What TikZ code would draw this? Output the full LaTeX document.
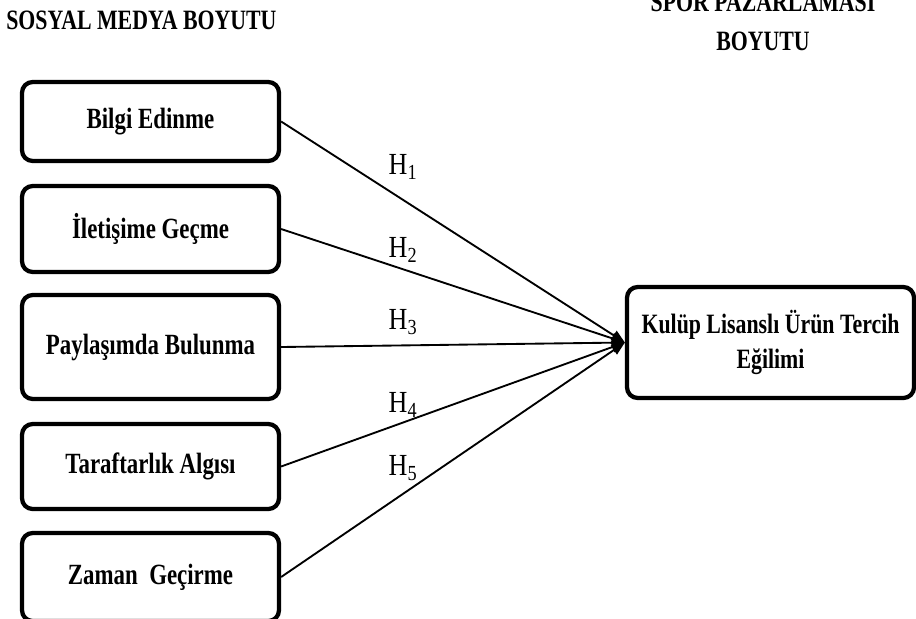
\documentclass[tikz,border=0pt]{standalone}
\usepackage{fontspec}
\setmainfont{Liberation Serif}
\newfontfamily\nf[FakeStretch=0.78]{Liberation Serif}
\newfontfamily\hf[FakeStretch=0.85]{Liberation Serif}
\usetikzlibrary{arrows.meta}
\begin{document}
\begin{tikzpicture}[x=0.75pt,y=-0.75pt,
  box/.style={draw, line width=3.2pt, rounded corners=8pt, align=center,
    font=\nf\bfseries\fontsize{22}{26}\selectfont, inner sep=0pt,
    minimum width=192.75pt},
  head/.style={font=\nf\bfseries\fontsize{21}{29}\selectfont, inner sep=0pt, align=center},
  hl/.style={font=\hf\fontsize{23}{24}\selectfont, inner sep=0pt},
  conn/.style={line width=1.4pt, -{Triangle[length=10pt,width=8pt]}}]
\useasboundingbox (0,0) rectangle (916,618);
\node[head, anchor=west] (s) at (6,20) {SOSYAL MEDYA BOYUTU};
\node[head] (p) at (763,22) {SPOR PAZARLAMASI\\BOYUTU};
\node[box, minimum height=59.25pt] (b1) at (150.5,121.5) {Bilgi Edinme};
\node[box, minimum height=64.5pt] (b2) at (150.5,229) {İletişime Geçme};
\node[box, minimum height=78pt] (b3) at (150.5,347) {Paylaşımda Bulunma};
\node[box, minimum height=63.75pt] (b4) at (150.5,466.5) {Taraftarlık Algısı};
\node[box, minimum height=66pt] (b5) at (150.5,577) {Zaman\ \ Geçirme};
\node[box, minimum width=215.25pt, minimum height=83.25pt, font=\nf\bfseries\fontsize{21}{26}\selectfont] (t) at (770.5,342.5) {Kulüp Lisanslı Ürün Tercih\\Eğilimi};
\draw[conn] (b1.east) -- (t.west);
\draw[conn] (b2.east) -- (t.west);
\draw[conn] (b3.east) -- (t.west);
\draw[conn] (b4.east) -- (t.west);
\draw[conn] (b5.east) -- (t.west);
\node[hl] (h1) at (403,167) {H\textsubscript{1}};
\node[hl] (h2) at (403,250) {H\textsubscript{2}};
\node[hl] (h3) at (403,322) {H\textsubscript{3}};
\node[hl] (h4) at (403,405) {H\textsubscript{4}};
\node[hl] (h5) at (403,468) {H\textsubscript{5}};
\end{tikzpicture}
\end{document}
